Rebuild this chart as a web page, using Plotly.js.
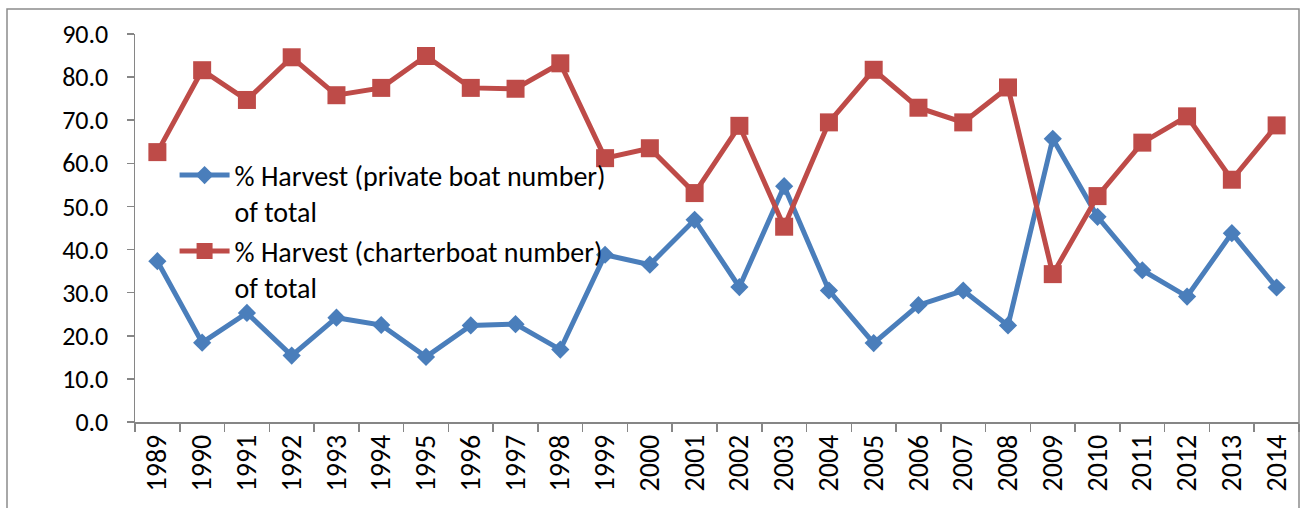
<!DOCTYPE html>
<html>
<head>
<meta charset="utf-8">
<script src="https://cdn.plot.ly/plotly-3.0.1.min.js"></script>
<style>html,body{margin:0;padding:0;background:#fff;}#chart{width:1300px;height:508px;}</style>
</head>
<body>
<div id="chart"></div>
<script>
const years = ['1989','1990','1991','1992','1993','1994','1995','1996','1997','1998','1999','2000','2001','2002','2003','2004','2005','2006','2007','2008','2009','2010','2011','2012','2013','2014'];
const privateBoat = [37.3,18.4,25.3,15.4,24.2,22.5,15.1,22.4,22.7,16.8,38.8,36.5,46.9,31.3,54.7,30.5,18.3,27.1,30.5,22.4,65.7,47.6,35.2,29.1,43.8,31.2];
const charterBoat = [62.6,81.6,74.7,84.6,75.8,77.5,84.9,77.5,77.3,83.2,61.2,63.5,53.1,68.7,45.3,69.5,81.7,72.9,69.5,77.6,34.3,52.4,64.8,70.9,56.2,68.8];
const seriesNames = ['% Harvest (private boat number)<br>of total','% Harvest (charterboat number)<br>of total'];

const font = 'Carlito, Calibri, Lato, sans-serif';
const traces = [
  {x: years, y: privateBoat, name: seriesNames[0], type: 'scatter', mode: 'lines+markers',
   line: {color: '#4A7EBB', width: 5}, marker: {symbol: 'diamond', size: 14, color: '#4A7EBB'}},
  {x: years, y: charterBoat, name: seriesNames[1], type: 'scatter', mode: 'lines+markers',
   line: {color: '#BE4B48', width: 5}, marker: {symbol: 'square', size: 18, color: '#BE4B48'}}
];
const layout = {
  width: 1300, height: 508,
  margin: {l: 135, r: 1, t: 34, b: 86},
  paper_bgcolor: '#fff', plot_bgcolor: '#fff',
  font: {family: font, size: 28, color: '#000'},
  showlegend: true,
  legend: {x: 0.034, y: 0.70, xanchor: 'left', yanchor: 'top', bgcolor: 'rgba(0,0,0,0)',
           font: {family: font, size: 28, color: '#000'}, valign: 'top', tracegroupgap: 0, itemwidth: 50},
  xaxis: {type: 'category', showgrid: false, zeroline: false, showline: true, linecolor: '#868686', linewidth: 1.5,
          ticks: 'outside', tickson: 'boundaries', ticklen: 8, tickcolor: '#868686', tickwidth: 1.5,
          tickangle: -90, tickfont: {family: font, size: 28, color: '#000'}, range: [-0.5, 25.5]},
  yaxis: {range: [0, 90], dtick: 10, tickformat: '.1f', showgrid: false, zeroline: false, showline: true,
          linecolor: '#868686', linewidth: 1.5, ticks: 'outside', ticklen: 7, tickcolor: '#868686', tickwidth: 1.5,
          ticklabelstandoff: 13, tickfont: {family: font, size: 26, color: '#000'}},
  shapes: [{type: 'rect', xref: 'paper', yref: 'paper', x0: -128/1164, x1: 1.0, y0: -0.3, y1: 1 + 25/388,
            line: {color: '#8C8C8C', width: 1.5}, fillcolor: 'rgba(0,0,0,0)', layer: 'below'}]
};
Plotly.newPlot('chart', traces, layout, {displayModeBar: false, staticPlot: true});
</script>
</body>
</html>
